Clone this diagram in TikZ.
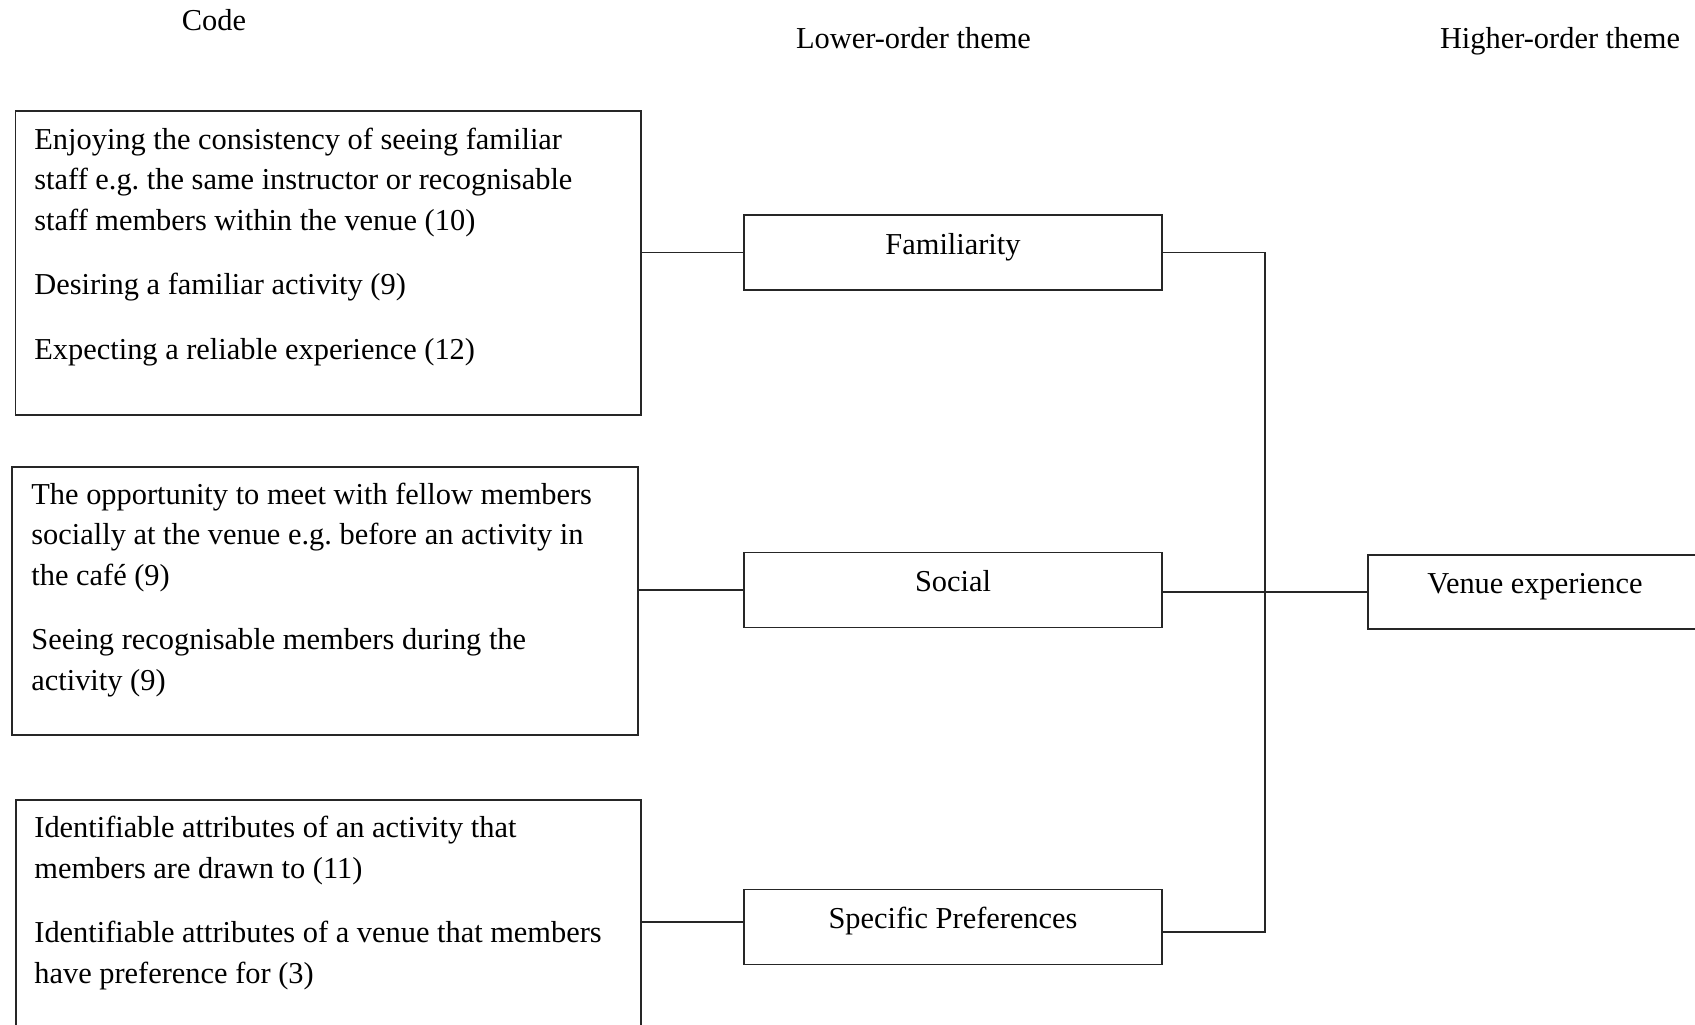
\documentclass[tikz,border=0pt]{standalone}
\usepackage{fontspec}
\setmainfont{Liberation Serif}
\usetikzlibrary{fit}

\begin{document}
\begin{tikzpicture}[
  x=0.5pt, y=-0.5pt,
  every node/.style={font=\fontsize{15.2}{20.25}\selectfont, text=black},
  box/.style={draw=black!85, line width=0.9pt, inner sep=0pt},
  themebox/.style={box, minimum width=209pt, minimum height=37.5pt,
    text height=7.5pt, text depth=6pt},
  codetext/.style={anchor=base west, align=left, inner sep=0pt},
  header/.style={anchor=base, inner sep=0pt},
  link/.style={draw=black!85, line width=0.7pt}
]
\path[use as bounding box, clip] (0,0) rectangle (1695,1024);

% column headings
\node[header] (hcode)  at (214,30)   {Code};
\node[header] (hlow)   at (913.5,48) {Lower-order theme};
\node[header] (hhigh)  at (1560,48)  {Higher-order theme};

% code boxes (text nodes are placed by the baseline of their last line)
\node[box, fit={(15.5,111) (641,415)}] (c1) {};
\node[codetext] (t1) at (34,359) {Enjoying the consistency of seeing familiar\\
  staff e.g.\ the same instructor or recognisable\\
  staff members within the venue (10)\\[12pt]
  Desiring a familiar activity (9)\\[12pt]
  Expecting a reliable experience (12)};

\node[box, fit={(12,467) (638,735)}] (c2) {};
\node[codetext] (t2) at (31,690) {The opportunity to meet with fellow members\\
  socially at the venue e.g.\ before an activity in\\
  the café (9)\\[12pt]
  Seeing recognisable members during the\\
  activity (9)};

\node[box, fit={(16,800) (641,1045)}] (c3) {};
\node[codetext] (t3) at (34,983) {Identifiable attributes of an activity that\\
  members are drawn to (11)\\[12pt]
  Identifiable attributes of a venue that members\\
  have preference for (3)};

% lower-order themes
\node[themebox] (fam) at (953,252.5) {Familiarity};
\node[themebox] (soc) at (953,590)   {Social};
\node[themebox] (spp) at (953,927)   {Specific Preferences};

% higher-order theme
\node[themebox, minimum width=167pt, minimum height=37pt] (ven) at (1535,592) {Venue experience};

% connectors
\coordinate (bus) at (1265,0);
\draw[link] (fam.west -| c1.east) -- (fam.west);
\draw[link] (soc.west -| c2.east) -- (soc.west);
\draw[link] ([yshift=2.5pt]spp.west -| c3.east) -- ([yshift=2.5pt]spp.west);
\draw[link] (fam.east) -- (fam.east -| bus) -- ([yshift=-2.5pt]spp.east -| bus) -- ([yshift=-2.5pt]spp.east);
\draw[link] (ven.west -| soc.east) -- (ven.west);
\end{tikzpicture}
\end{document}
